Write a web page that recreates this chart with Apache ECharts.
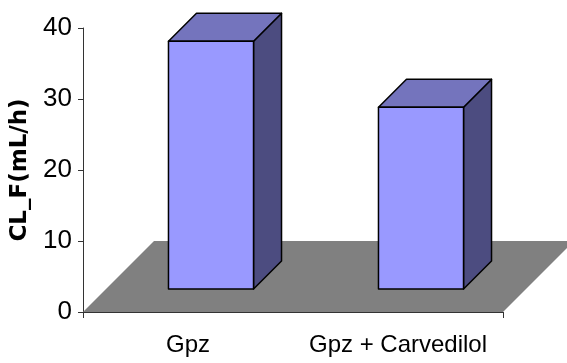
<!DOCTYPE html>
<html>
<head>
<meta charset="utf-8">
<script src="https://cdn.jsdelivr.net/npm/echarts@6/dist/echarts.min.js"></script>
<style>
  html, body { margin: 0; padding: 0; background: #ffffff; }
  #chart { width: 567px; height: 363px; }
</style>
</head>
<body>
<div id="chart"></div>
<script>
// Clearance of the two treatment groups
const categories = ['Gpz', 'Gpz + Carvedilol'];
const clearance = [34.9, 25.6];
const yMin = 0;
const yMax = 40;
const yStep = 10;
const yTitle = 'CL_F(mL/h)';

// Pseudo-3D look: oblique floor and boxed columns
const FLOOR_DEPTH_VALUE = 10;   // floor depth expressed in axis units (oblique 45°)
const BAR_FRONT_OFFSET = 23;    // px from front edge of floor to bar front
const BAR_DEPTH = 28;           // px depth of each column
const BAR_WIDTH_RATIO = 0.405;  // share of a category band

const COLORS = {
  floor: '#808080',
  front: '#9999FF',
  top: '#7474BD',
  side: '#4C4C80',
  edge: '#000000',
  axis: '#333333'
};

const chart = echarts.init(document.getElementById('chart'), null, { renderer: 'canvas' });

function renderFloor(params, api) {
  const band = api.size([1, 0])[0];
  const left = api.coord([0, 0])[0] - band / 2;
  const right = api.coord([categories.length - 1, 0])[0] + band / 2;
  const y0 = api.coord([0, 0])[1];
  const d = api.size([0, FLOOR_DEPTH_VALUE])[1];
  return {
    type: 'polygon',
    shape: { points: [[left, y0], [right, y0], [right + d, y0 - d], [left + d, y0 - d]] },
    style: { fill: COLORS.floor, stroke: null }
  };
}

function renderColumn(params, api) {
  const i = api.value(0);
  const v = api.value(1);
  const base = api.coord([i, 0]);
  const head = api.coord([i, v]);
  const band = api.size([1, 0])[0];
  const w = band * BAR_WIDTH_RATIO;
  const x0 = base[0] + BAR_FRONT_OFFSET - w / 2;
  const x1 = x0 + w;
  const yb = base[1] - BAR_FRONT_OFFSET;
  const yt = head[1] - BAR_FRONT_OFFSET;
  const dep = BAR_DEPTH;
  const edge = { stroke: COLORS.edge, lineWidth: 1.5, lineJoin: 'round' };
  return {
    type: 'group',
    children: [
      {
        type: 'polygon',
        shape: { points: [[x1, yb], [x1, yt], [x1 + dep, yt - dep], [x1 + dep, yb - dep]] },
        style: Object.assign({ fill: COLORS.side }, edge)
      },
      {
        type: 'polygon',
        shape: { points: [[x0, yt], [x1, yt], [x1 + dep, yt - dep], [x0 + dep, yt - dep]] },
        style: Object.assign({ fill: COLORS.top }, edge)
      },
      {
        type: 'rect',
        shape: { x: x0, y: yt, width: w, height: yb - yt },
        style: Object.assign({ fill: COLORS.front }, edge)
      }
    ]
  };
}

const option = {
  animation: false,
  backgroundColor: '#ffffff',
  grid: {
    left: 83, right: 64, top: 28, bottom: 51,
    containLabel: false,
    outerBoundsMode: 'none'
  },
  xAxis: {
    type: 'category',
    data: categories,
    boundaryGap: true,
    axisLine: { show: true, lineStyle: { color: COLORS.axis, width: 1 } },
    axisTick: {
      show: true,
      length: 6,
      interval: function (index) { return index === 0; },
      lineStyle: { color: COLORS.axis, width: 1 }
    },
    axisLabel: {
      interval: 0,
      color: '#000000',
      fontSize: 24,
      fontFamily: 'Liberation Sans, Arial, sans-serif',
      margin: 21
    },
    splitLine: { show: false }
  },
  yAxis: {
    type: 'value',
    min: yMin,
    max: yMax,
    interval: yStep,
    name: yTitle,
    nameLocation: 'middle',
    nameRotate: 90,
    nameGap: 51,
    nameTextStyle: {
      color: '#000000',
      fontSize: 23,
      fontWeight: 'bold',
      fontFamily: 'DejaVu Sans, sans-serif'
    },
    axisLine: { show: true, lineStyle: { color: COLORS.axis, width: 1 } },
    axisTick: { show: true, length: 5, lineStyle: { color: COLORS.axis, width: 1 } },
    axisLabel: {
      color: '#000000',
      fontSize: 26,
      fontFamily: 'Liberation Sans, Arial, sans-serif',
      margin: 11
    },
    splitLine: { show: false }
  },
  series: [
    {
      type: 'custom',
      name: 'floor',
      renderItem: renderFloor,
      data: [[0, 0]],
      z: 1,
      silent: true
    },
    {
      type: 'custom',
      name: yTitle,
      renderItem: renderColumn,
      encode: { x: 0, y: 1 },
      data: clearance.map(function (v, i) { return [i, v]; }),
      z: 2
    }
  ]
};

chart.setOption(option);
</script>
</body>
</html>
